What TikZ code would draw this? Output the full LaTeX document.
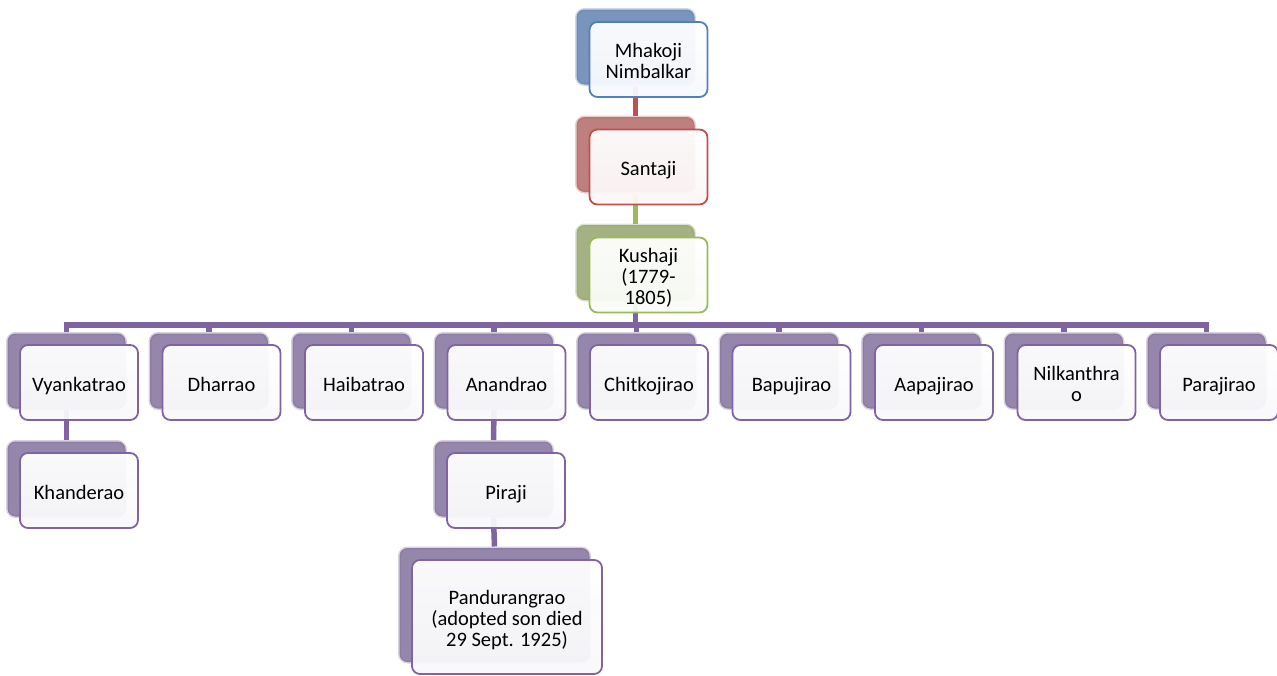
\documentclass[tikz,border=0pt]{standalone}
\usepackage{fontspec}
\usepackage{graphicx}
\setmainfont{Carlito}
\definecolor{bB}{HTML}{4F81BD}
\definecolor{bR}{HTML}{C0504D}
\definecolor{bG}{HTML}{9BBB59}
\definecolor{bP}{HTML}{8064A2}
\definecolor{sB}{HTML}{587AAC}
\definecolor{sR}{HTML}{AC605E}
\definecolor{sG}{HTML}{8C9E64}
\definecolor{sP}{HTML}{7A6896}
\newcommand\lbl[1]{\raisebox{0pt}[\dimexpr\height+9pt\relax]{\begin{tabular}{@{}c@{}}#1\end{tabular}}}
\begin{document}
\begin{tikzpicture}[x=1pt,y=-1pt,
  font=\fontsize{20.5}{21}\selectfont,
  shd/.style={rectangle, rounded corners=8pt, minimum width=118pt, minimum height=75pt,
    inner sep=0pt, fill=#1, fill opacity=0.8, draw=#1, draw opacity=0.3, line width=3pt},
  frt/.style={rectangle, rounded corners=8pt, minimum width=118pt, minimum height=75pt,
    inner sep=1pt, draw=b#1, line width=1.8pt, top color=white, bottom color=b#1!5,
    fill opacity=0.95, text opacity=1, text=black},
  conn/.style={line width=5.5pt, draw=#1},
  big/.style={minimum width=190pt, minimum height=114pt}]
\useasboundingbox (0,0) rectangle (1277,675);

% shadow nodes
\node[shd=sB] (sM) at (635.5,47) {};
\node[shd=sR] (sS) at (635.5,154.5) {};
\node[shd=sG] (sK) at (635.5,262.5) {};
\foreach \i in {0,...,8}{
  \node[shd=sP] (c\i) at (66.5+142.5*\i,371) {};
}
\node[shd=sP] (cKh) at (66.5,479) {};
\node[shd=sP] (cPi) at (493.5,479) {};
\node[shd=sP,big] (cPa) at (494.5,605) {};

% connectors
\coordinate (bar) at (635.5,325);
\draw[conn=bR] (sM.south) -- (sS.north);
\draw[conn=bG] (sS.south) -- (sK.north);
\draw[conn=bP] (sK.south) -- (bar);
\foreach \i in {0,...,8}{
  \draw[conn=bP] (bar) -| (c\i.north);
}
\draw[conn=bP] (c0.south) -- (cKh.north);
\draw[conn=bP] (c3.south) -- (cPi.north);
\draw[conn=bP] (cPi.south) -- (cPa.north);

% front boxes
\node[frt=B] (fM) at ([shift={(13,12.5)}]sM) {\lbl{Mhakoji\\Nimbalkar}};
\node[frt=R] (fS) at ([shift={(13,12.5)}]sS) {\lbl{Santaji}};
\node[frt=G] (fK) at ([shift={(13,12.5)}]sK) {\lbl{Kushaji\\(1779-\\1805)}};
\foreach \i/\t in {0/Vyankatrao,1/Dharrao,2/Haibatrao,3/Anandrao,4/Chitkojirao,5/Bapujirao,6/Aapajirao,7/{Nilkanthra\\o},8/Parajirao}{
  \node[frt=P] (f\i) at ([shift={(12.5,11.5)}]c\i) {\lbl{\t}};
}
\node[frt=P] (fKh) at ([shift={(12.5,11.5)}]cKh) {\lbl{Khanderao}};
\node[frt=P] (fPi) at ([shift={(12.5,11.5)}]cPi) {\lbl{Piraji}};
\node[frt=P,big] (fPa) at ([shift={(12.5,12)}]cPa) {\lbl{Pandurangrao\\(adopted son died\\29 Sept. 1925)}};
\end{tikzpicture}
\end{document}
